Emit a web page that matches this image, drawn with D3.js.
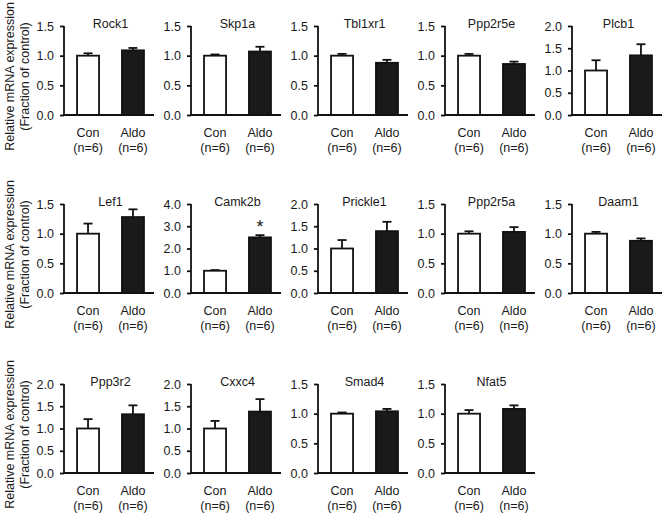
<!DOCTYPE html>
<html>
<head>
<meta charset="utf-8">
<script src="https://cdn.jsdelivr.net/npm/d3@7"></script>
<style>
  body { margin: 0; background: #fff; }
  text { font-family: "Liberation Sans", Arial, sans-serif; fill: #1a1a1a; }
</style>
</head>
<body>
<script>
const W = 669, H = 515;

// data
const genes    = ["Rock1", "Skp1a", "Tbl1xr1", "Ppp2r5e", "Plcb1",
                  "Lef1", "Camk2b", "Prickle1", "Ppp2r5a", "Daam1",
                  "Ppp3r2", "Cxxc4", "Smad4", "Nfat5"];
const conMean  = [1.0, 1.0, 1.0, 1.0, 1.0, 1.0, 1.0, 1.0, 1.0, 1.0, 1.0, 1.0, 1.0, 1.0];
const conErr   = [0.04, 0.02, 0.03, 0.03, 0.23, 0.17, 0.03, 0.19, 0.04, 0.03, 0.21, 0.17, 0.02, 0.06];
const aldoMean = [1.09, 1.07, 0.88, 0.86, 1.34, 1.28, 2.50, 1.39, 1.03, 0.88, 1.32, 1.38, 1.04, 1.08];
const aldoErr  = [0.04, 0.08, 0.05, 0.04, 0.25, 0.13, 0.10, 0.21, 0.08, 0.04, 0.20, 0.28, 0.04, 0.06];
const yMax     = [1.5, 1.5, 1.5, 1.5, 2.0, 1.5, 4.0, 2.0, 1.5, 1.5, 2.0, 2.0, 1.5, 1.5];
const yStep    = [0.5, 0.5, 0.5, 0.5, 0.5, 0.5, 1.0, 0.5, 0.5, 0.5, 0.5, 0.5, 0.5, 0.5];
const signif   = ["", "", "", "", "", "", "*", "", "", "", "", "", "", ""];
const groups   = ["Con", "Aldo"];
const nLabels  = ["(n=6)", "(n=6)"];
const yTitle   = ["Relative mRNA expression", "(Fraction of control)"];

const rowTop = [26, 204, 384];
const plotH = 89;
const colX0 = 64, colStep = 127;
const fs = 12.5;

const svg = d3.select("body").append("svg")
  .attr("width", W).attr("height", H);

genes.forEach((g, i) => {
  const row = Math.floor(i / 5), col = i % 5;
  const x0 = colX0 + col * colStep;
  const top = rowTop[row], bottom = top + plotH;

  const x = d3.scaleBand().domain(groups).range([0, 93])
    .paddingInner(0.51).paddingOuter(0.29);
  const y = d3.scaleLinear().domain([0, yMax[i]]).range([plotH, 0]);

  const p = svg.append("g").attr("transform", `translate(${x0},${top})`);

  const means = [conMean[i], aldoMean[i]];
  const errs = [conErr[i], aldoErr[i]];

  // error bars (upper only)
  groups.forEach((grp, k) => {
    const cx = x(grp) + x.bandwidth() / 2;
    p.append("line")
      .attr("x1", cx).attr("x2", cx)
      .attr("y1", y(means[k])).attr("y2", y(means[k] + errs[k]))
      .attr("stroke", "#111").attr("stroke-width", 1.8);
    p.append("line")
      .attr("x1", cx - 4.5).attr("x2", cx + 4.5)
      .attr("y1", y(means[k] + errs[k])).attr("y2", y(means[k] + errs[k]))
      .attr("stroke", "#111").attr("stroke-width", 1.8);
  });

  // bars
  p.selectAll("rect.bar").data(groups).enter().append("rect")
    .attr("class", "bar")
    .attr("x", d => x(d))
    .attr("y", (d, k) => y(means[k]))
    .attr("width", x.bandwidth())
    .attr("height", (d, k) => plotH - y(means[k]))
    .attr("fill", (d, k) => k === 0 ? "#fff" : "#1a1a1a")
    .attr("stroke", "#111").attr("stroke-width", 1.8);

  // y axis
  const ticks = d3.range(0, yMax[i] + 1e-9, yStep[i]);
  const yAxis = d3.axisLeft(y).tickValues(ticks).tickFormat(d3.format(".1f"))
    .tickSize(4).tickPadding(6);
  const ya = p.append("g").call(yAxis);
  ya.select(".domain").attr("stroke", "#111").attr("stroke-width", 1.8)
    .attr("d", `M0,0V${plotH}`);
  ya.selectAll(".tick line").attr("stroke", "#111").attr("stroke-width", 1.8);
  ya.selectAll(".tick text").style("font-size", fs + "px")
    .style("font-family", '"Liberation Sans", Arial, sans-serif').attr("fill", "#1a1a1a");

  // baseline
  p.append("line").attr("x1", -1).attr("x2", 90)
    .attr("y1", plotH).attr("y2", plotH)
    .attr("stroke", "#111").attr("stroke-width", 1.8);

  // category labels
  groups.forEach((grp, k) => {
    const cx = x(grp) + x.bandwidth() / 2;
    p.append("text").attr("x", cx).attr("y", plotH + 22)
      .attr("text-anchor", "middle").style("font-size", fs + "px").text(grp);
    p.append("text").attr("x", cx).attr("y", plotH + 37)
      .attr("text-anchor", "middle").style("font-size", fs + "px").text(nLabels[k]);
  });

  // title
  p.append("text").attr("x", 46.5).attr("y", 1.5)
    .attr("text-anchor", "middle").style("font-size", fs + "px").text(g);

  // significance mark
  if (signif[i]) {
    const cx = x("Aldo") + x.bandwidth() / 2;
    p.append("text").attr("x", cx).attr("y", y(aldoMean[i] + aldoErr[i]) - 2)
      .attr("text-anchor", "middle").style("font-size", "18px").text(signif[i]);
  }
});

// y-axis titles, one per row
rowTop.forEach(top => {
  const cy = top + plotH / 2 + 6;
  yTitle.forEach((t, j) => {
    svg.append("text")
      .attr("transform", `translate(${14 + j * 15},${cy}) rotate(-90)`)
      .attr("text-anchor", "middle").style("font-size", fs + "px").text(t);
  });
});
</script>
</body>
</html>
